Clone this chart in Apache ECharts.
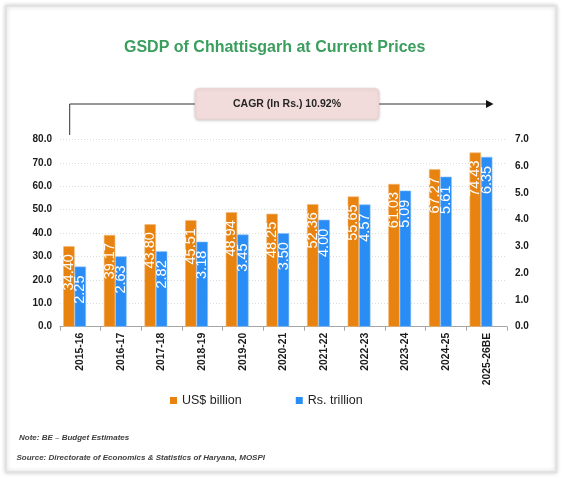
<!DOCTYPE html>
<html>
<head>
<meta charset="utf-8">
<script src="https://cdn.jsdelivr.net/npm/echarts@6/dist/echarts.min.js"></script>
<style>
html,body{margin:0;padding:0;background:#fff;}
#chart{width:563px;height:478px;}
</style>
</head>
<body>
<div id="chart"></div>
<script>
const categories = ['2015-16','2016-17','2017-18','2018-19','2019-20','2020-21','2021-22','2022-23','2023-24','2024-25','2025-26BE'];
const usdBillion = [34.40, 39.17, 43.80, 45.51, 48.94, 48.25, 52.36, 55.65, 61.03, 67.27, 74.43];
const rsTrillion = [2.25, 2.63, 2.82, 3.18, 3.45, 3.50, 4.00, 4.57, 5.09, 5.61, 6.35];
const seriesNames = ['US$ billion', 'Rs. trillion'];
const titleText = 'GSDP of Chhattisgarh at Current Prices';
const cagrText = 'CAGR (In Rs.) 10.92%';
const noteText = 'Note: BE \u2013 Budget Estimates';
const sourceText = 'Source: Directorate of Economics & Statistics of Haryana, MOSPI';

const FONT = "'Liberation Sans', Arial, sans-serif";
const chart = echarts.init(document.getElementById('chart'), null, {renderer: 'canvas'});

const labelCommon = {
  show: true,
  position: 'insideTop',
  rotate: 90,
  align: 'right',
  verticalAlign: 'middle',
  color: '#ffffff',
  fontFamily: FONT,
  fontSize: 14.5
};

chart.setOption({
  animation: false,
  backgroundColor: '#ffffff',
  title: {
    text: titleText,
    left: 124,
    top: 40,
    padding: 0,
    textStyle: {fontFamily: FONT, fontSize: 16, fontWeight: 'bold', color: '#3a9e5d'}
  },
  legend: {
    data: seriesNames,
    left: 170,
    top: 394,
    padding: 0,
    itemWidth: 7,
    itemHeight: 7,
    itemGap: 54,
    icon: 'rect',
    itemStyle: {borderWidth: 0},
    textStyle: {fontFamily: FONT, fontSize: 12.5, color: '#222222'}
  },
  grid: {left: 60, right: 56, top: 139.5, bottom: 151.3, containLabel: false},
  xAxis: {
    type: 'category',
    data: categories,
    axisLine: {show: true, lineStyle: {color: '#a6a6a6', width: 1}},
    axisTick: {show: true, length: 4, lineStyle: {color: '#a6a6a6'}},
    axisLabel: {rotate: 90, margin: 6, fontFamily: FONT, fontSize: 10.4, fontWeight: 'bold', color: '#1a1a1a', interval: 0}
  },
  yAxis: [
    {
      type: 'value', min: 0, max: 80, interval: 10,
      axisLine: {show: false}, axisTick: {show: false},
      axisLabel: {margin: 8, formatter: v => v.toFixed(1), fontFamily: FONT, fontSize: 10, fontWeight: 'bold', color: '#1a1a1a'},
      splitLine: {show: true, lineStyle: {color: '#dcdcdc', type: [1, 2], width: 1}}
    },
    {
      type: 'value', min: 0, max: 7, interval: 1,
      axisLine: {show: false}, axisTick: {show: false},
      axisLabel: {margin: 8, formatter: v => v.toFixed(1), fontFamily: FONT, fontSize: 10, fontWeight: 'bold', color: '#1a1a1a'},
      splitLine: {show: false}
    }
  ],
  series: [
    {
      name: seriesNames[0], type: 'bar', yAxisIndex: 0, data: usdBillion,
      barWidth: 11.4, barGap: '0%',
      itemStyle: {color: '#e8830f', borderColor: '#f3b878', borderWidth: 0.6},
      label: Object.assign({}, labelCommon, {distance: 8, formatter: p => p.value.toFixed(2)})
    },
    {
      name: seriesNames[1], type: 'bar', yAxisIndex: 1, data: rsTrillion,
      barWidth: 11.4, barGap: '0%',
      itemStyle: {color: '#2a8cf5', borderColor: '#8cc2fa', borderWidth: 0.6},
      label: Object.assign({}, labelCommon, {distance: 9, formatter: p => p.value.toFixed(2)})
    },
    {
      name: 'spacer', type: 'bar', yAxisIndex: 0, data: categories.map(() => null),
      barWidth: 11.4, barGap: '0%', silent: true,
      itemStyle: {color: 'rgba(0,0,0,0)'}
    }
  ],
  graphic: [
    {
      type: 'rect', z: -10, silent: true,
      shape: {x: 6, y: 6, width: 550, height: 466},
      style: {fill: '#ffffff', stroke: '#e2e2e2', lineWidth: 2, shadowBlur: 4, shadowColor: 'rgba(0,0,0,0.18)'}
    },
    {
      type: 'polyline', z: 10, silent: true,
      shape: {points: [[69.7, 135], [69.7, 104], [195, 104]]},
      style: {stroke: '#333333', lineWidth: 1, fill: null}
    },
    {
      type: 'line', z: 10, silent: true,
      shape: {x1: 379, y1: 104, x2: 488, y2: 104},
      style: {stroke: '#333333', lineWidth: 1}
    },
    {
      type: 'polygon', z: 10, silent: true,
      shape: {points: [[486, 100], [493.5, 104], [486, 108]]},
      style: {fill: '#111111'}
    },
    {
      type: 'rect', z: 11, silent: true,
      shape: {x: 195, y: 88.3, width: 184, height: 31, r: 4},
      style: {fill: '#f2dcdb', stroke: '#ead0cf', lineWidth: 0.5, shadowBlur: 3, shadowOffsetY: 1, shadowColor: 'rgba(0,0,0,0.22)'}
    },
    {
      type: 'text', z: 12, silent: true,
      x: 287, y: 104,
      style: {text: cagrText, fontFamily: FONT, fontSize: 10.5, fontWeight: 'bold', fill: '#262626', align: 'center', verticalAlign: 'middle'}
    },
    {
      type: 'text', z: 12, silent: true,
      x: 19, y: 438,
      style: {text: noteText, fontFamily: FONT, fontSize: 8, fontWeight: 'bold', fontStyle: 'italic', fill: '#404040', align: 'left', verticalAlign: 'middle'}
    },
    {
      type: 'text', z: 12, silent: true,
      x: 16.5, y: 458,
      style: {text: sourceText, fontFamily: FONT, fontSize: 8, fontWeight: 'bold', fontStyle: 'italic', fill: '#404040', align: 'left', verticalAlign: 'middle'}
    }
  ]
});
</script>
</body>
</html>
